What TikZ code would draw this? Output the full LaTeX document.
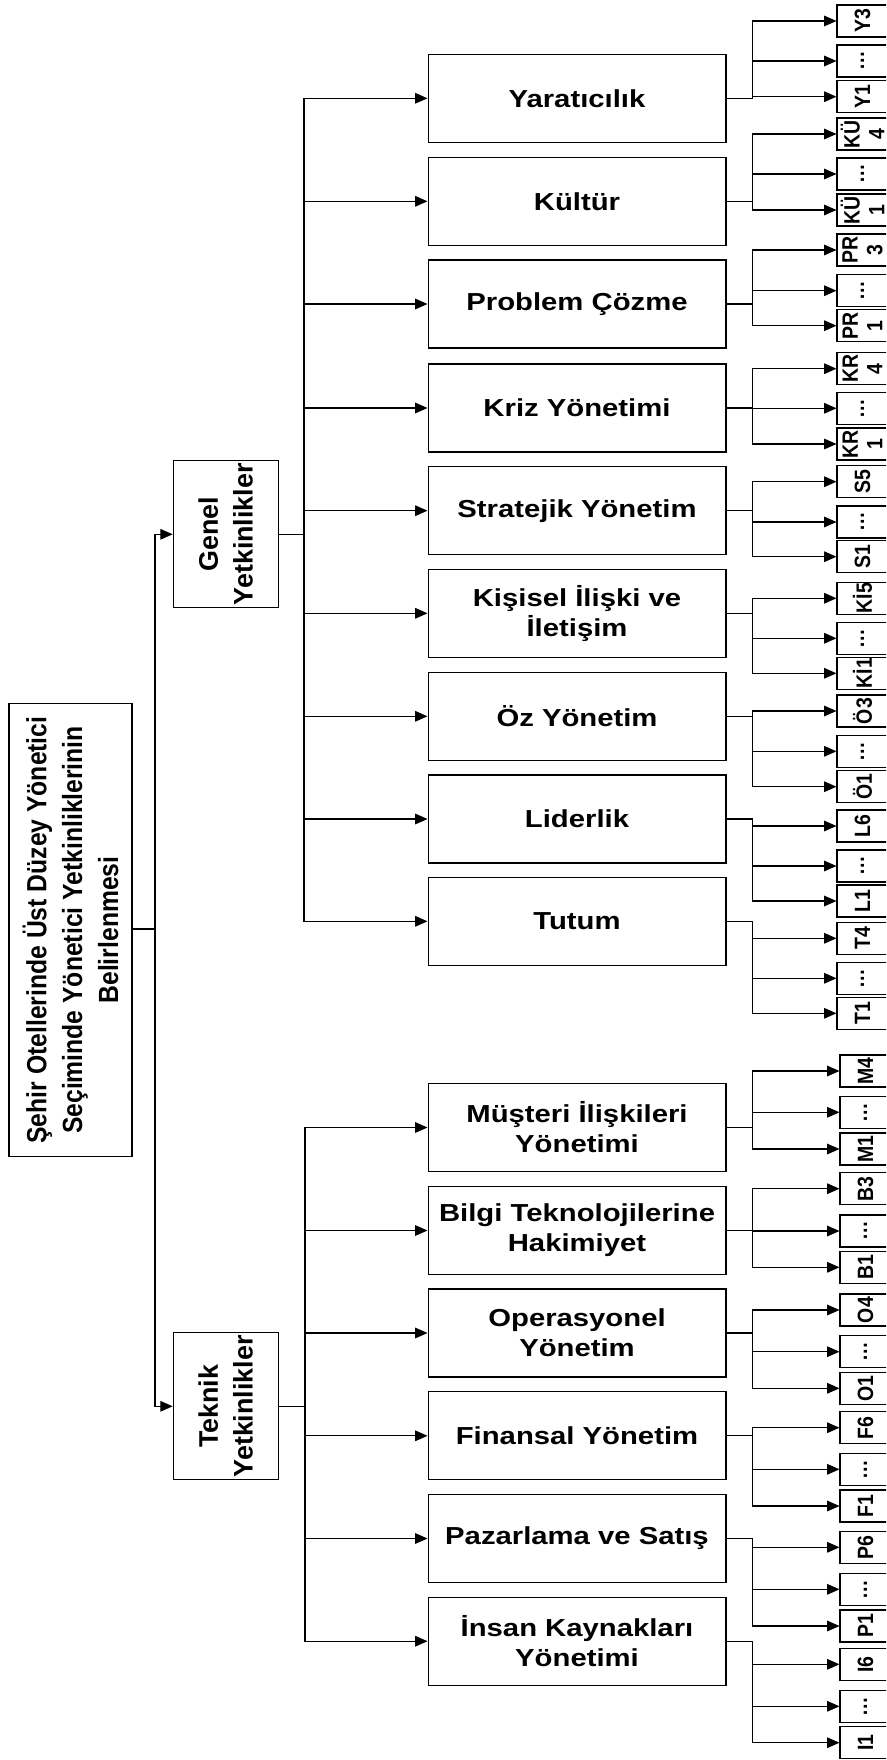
\documentclass[tikz,border=0pt]{standalone}
\usepackage{fontspec}
\setmainfont{Liberation Sans}
\newfontfamily\boxfont{Liberation Sans}[FakeStretch=1.19]
\newfontfamily\rootfont{Liberation Sans}[FakeStretch=0.89]
\newfontfamily\leaffont{Liberation Sans}[FakeStretch=0.88]
\usetikzlibrary{arrows.meta}

\begin{document}
\begin{tikzpicture}[x=0.02cm, y=-0.02cm, line width=0.6pt]
\useasboundingbox (0,0) rectangle (886,1760);
\clip (0,0) rectangle (886,1760);

\begin{scope}[every node/.style={draw, rotate=90, align=center, inner sep=0pt}]
    \node[minimum width=9.08cm, minimum height=2.46cm, font=\rootfont\bfseries\fontsize{15.8}{20.4}\selectfont] (root) at (70.5,930)
        {Şehir Otellerinde Üst Düzey Yönetici\\Seçiminde Yönetici Yetkinliklerinin\\Belirlenmesi};
    \node[minimum width=2.94cm, minimum height=2.1cm, font=\bfseries\fontsize{15.3}{19.8}\selectfont] (gen) at (225.7,534.3) {Genel\\Yetkinlikler};
    \node[minimum width=2.94cm, minimum height=2.1cm, font=\bfseries\fontsize{15.3}{19.8}\selectfont] (tek) at (225.7,1406.3) {Teknik\\Yetkinlikler};
\end{scope}

\begin{scope}[every node/.style={draw, minimum width=5.96cm, minimum height=1.76cm, inner sep=0pt, align=center,
              font=\boxfont\bfseries\fontsize{14}{17}\selectfont}]
    \node (yar) at (577,98.3) {Yaratıcılık};
    \node (kul) at (577,201.3) {Kültür};
    \node (pro) at (577,304) {Problem Çözme};
    \node (kri) at (577,408) {Kriz Yönetimi};
    \node (str) at (577,510.7) {Stratejik Yönetim};
    \node (kis) at (577,613.3) {Kişisel İlişki ve\\İletişim};
    \node (oz) at (577,716.3) {Öz Yönetim};
    \node (lid) at (577,819) {Liderlik};
    \node (tut) at (577,921.3) {Tutum};
    \node (mus) at (577,1127.5) {Müşteri İlişkileri\\Yönetimi};
    \node (bil) at (577,1230.5) {Bilgi Teknolojilerine\\Hakimiyet};
    \node (ope) at (577,1333) {Operasyonel\\Yönetim};
    \node (fin) at (577,1435.8) {Finansal Yönetim};
    \node (paz) at (577,1538.5) {Pazarlama ve Satış};
    \node (ins) at (577,1641.2) {İnsan Kaynakları\\Yönetimi};
\end{scope}

\begin{scope}[every node/.style={draw, rotate=90, minimum width=0.64cm, minimum height=1.02cm, inner sep=0pt, align=center,
              font=\leaffont\bfseries\fontsize{12.6}{14}\selectfont}]
    \node (yar3) at (862.5,21) {Y3};
    \node (yard) at (862.5,61) {…};
    \node (yar1) at (862.5,96.7) {Y1};
    \node (kul4) at (862.5,134) {KÜ\\4};
    \node (kuld) at (862.5,174) {…};
    \node (kul1) at (862.5,210) {KÜ\\1};
    \node (pro3) at (862.5,250) {PR\\3};
    \node (prod) at (862.5,290.7) {…};
    \node (pro1) at (862.5,325.7) {PR\\1};
    \node (kri4) at (862.5,368.7) {KR\\4};
    \node (krid) at (862.5,408.3) {…};
    \node (kri1) at (862.5,444) {KR\\1};
    \node (str5) at (862.5,481.7) {S5};
    \node (strd) at (862.5,522) {…};
    \node (str1) at (862.5,556.7) {S1};
    \node (kis5) at (862.5,598.3) {Kİ5};
    \node (kisd) at (862.5,638.3) {…};
    \node (kis1) at (862.5,673.3) {Kİ1};
    \node (oz3) at (862.5,711) {Ö3};
    \node (ozd) at (862.5,751.3) {…};
    \node (oz1) at (862.5,786.7) {Ö1};
    \node (lid6) at (862.5,826) {L6};
    \node (lidd) at (862.5,866) {…};
    \node (lid1) at (862.5,901) {L1};
    \node (tut4) at (862.5,938.3) {T4};
    \node (tutd) at (862.5,978.3) {…};
    \node (tut1) at (862.5,1013.3) {T1};
    \node (mus4) at (865.5,1071) {M4};
    \node (musd) at (865.5,1112.3) {…};
    \node (mus1) at (865.5,1149) {M1};
    \node (bil3) at (865.5,1188.7) {B3};
    \node (bild) at (865.5,1231) {…};
    \node (bil1) at (865.5,1267.3) {B1};
    \node (ope4) at (865.5,1310) {O4};
    \node (oped) at (865.5,1351.7) {…};
    \node (ope1) at (865.5,1388.3) {O1};
    \node (fin6) at (865.5,1427.7) {F6};
    \node (find) at (865.5,1469.3) {…};
    \node (fin1) at (865.5,1506) {F1};
    \node (paz6) at (865.5,1547.3) {P6};
    \node (pazd) at (865.5,1589.3) {…};
    \node (paz1) at (865.5,1626) {P1};
    \node (ins6) at (865.5,1664.3) {I6};
    \node (insd) at (865.5,1706.3) {…};
    \node (ins1) at (865.5,1742.7) {I1};
\end{scope}

\coordinate (rb) at (155,929);
\coordinate (gb) at (304,534.3);
\coordinate (tb) at (305,1406.3);

\begin{scope}[>={Triangle[length=7pt,width=6pt]},
              every edge/.style={draw, to path={|- (\tikztotarget) \tikztonodes}}]
    \draw (root.south |- rb) -- (rb);
    \path [->] (rb) edge (gen) edge (tek);
    \draw (gen.south) -- (gb);
    \path [->] (gb) edge (yar) edge (kul) edge (pro) edge (kri) edge (str) edge (kis) edge (oz) edge (lid) edge (tut);
    \draw (tek.south) -- (tb);
    \path [->] (tb) edge (mus) edge (bil) edge (ope) edge (fin) edge (paz) edge (ins);

    \draw (yar.east) -- ++(26,0) coordinate (yarb);
    \path [->] (yarb) edge (yar3) edge (yard) edge (yar1);
    \draw (kul.east) -- ++(26,0) coordinate (kulb);
    \path [->] (kulb) edge (kul4) edge (kuld) edge (kul1);
    \draw (pro.east) -- ++(26,0) coordinate (prob);
    \path [->] (prob) edge (pro3) edge (prod) edge (pro1);
    \draw (kri.east) -- ++(26,0) coordinate (krib);
    \path [->] (krib) edge (kri4) edge (krid) edge (kri1);
    \draw (str.east) -- ++(26,0) coordinate (strb);
    \path [->] (strb) edge (str5) edge (strd) edge (str1);
    \draw (kis.east) -- ++(26,0) coordinate (kisb);
    \path [->] (kisb) edge (kis5) edge (kisd) edge (kis1);
    \draw (oz.east) -- ++(26,0) coordinate (ozb);
    \path [->] (ozb) edge (oz3) edge (ozd) edge (oz1);
    \draw (lid.east) -- ++(26,0) coordinate (lidb);
    \path [->] (lidb) edge (lid6) edge (lidd) edge (lid1);
    \draw (tut.east) -- ++(26,0) coordinate (tutb);
    \path [->] (tutb) edge (tut4) edge (tutd) edge (tut1);

    \draw (mus.east) -- ++(26,0) coordinate (musb);
    \path [->] (musb) edge (mus4) edge (musd) edge (mus1);
    \draw (bil.east) -- ++(26,0) coordinate (bilb);
    \path [->] (bilb) edge (bil3) edge (bild) edge (bil1);
    \draw (ope.east) -- ++(26,0) coordinate (opeb);
    \path [->] (opeb) edge (ope4) edge (oped) edge (ope1);
    \draw (fin.east) -- ++(26,0) coordinate (finb);
    \path [->] (finb) edge (fin6) edge (find) edge (fin1);
    \draw (paz.east) -- ++(26,0) coordinate (pazb);
    \path [->] (pazb) edge (paz6) edge (pazd) edge (paz1);
    \draw (ins.east) -- ++(26,0) coordinate (insb);
    \path [->] (insb) edge (ins6) edge (insd) edge (ins1);
\end{scope}
\end{tikzpicture}
\end{document}
